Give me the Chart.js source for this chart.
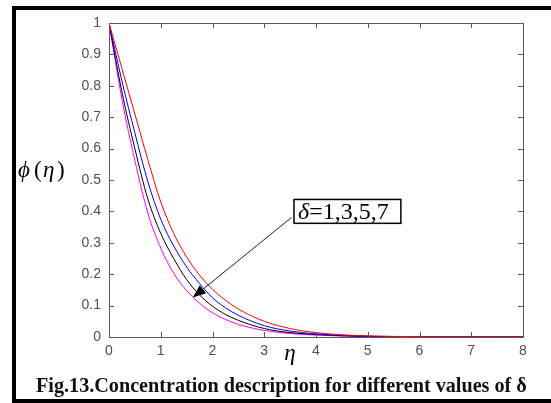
<!DOCTYPE html>
<html>
<head>
<meta charset="utf-8">
<script src="https://cdn.jsdelivr.net/npm/chart.js@4.4.0/dist/chart.umd.min.js"></script>
<style>
  html, body { margin: 0; padding: 0; background: #fff; }
  #wrap { width: 551px; height: 403px; }
</style>
</head>
<body>
<div id="wrap"><canvas id="graphique_phi" width="551" height="403"></canvas></div>
<script>
// eta grid
const etaValues = [0, 0.25, 0.5, 0.75, 1, 1.25, 1.5, 1.75, 2, 2.25, 2.5, 3, 3.5, 4, 4.5, 5, 6, 7, 8];

// phi(eta) for delta = 1, 3, 5, 7
const phiDelta1 = [1, 0.855, 0.71, 0.565, 0.43, 0.33, 0.255, 0.197, 0.152, 0.117, 0.089, 0.05, 0.027, 0.014, 0.007, 0.0035, 0.001, 0.0002, 0];
const phiDelta3 = [1, 0.815, 0.65, 0.495, 0.375, 0.29, 0.223, 0.17, 0.125, 0.093, 0.069, 0.036, 0.019, 0.01, 0.005, 0.0025, 0.0006, 0.0001, 0];
const phiDelta5 = [1, 0.78, 0.6, 0.44, 0.33, 0.25, 0.183, 0.134, 0.098, 0.072, 0.053, 0.027, 0.014, 0.008, 0.004, 0.002, 0.0005, 0.0001, 0];
const phiDelta7 = [1, 0.757, 0.562, 0.395, 0.283, 0.203, 0.148, 0.108, 0.077, 0.056, 0.04, 0.021, 0.011, 0.006, 0.003, 0.0015, 0.0004, 0.0001, 0];

const seriesLabels = ['δ=1', 'δ=3', 'δ=5', 'δ=7'];
const seriesColors = ['#ff0000', '#0000ff', '#000000', '#ff00ff'];

const annotationText = '=1,3,5,7';
const captionText = 'Fig.13.Concentration description for different values of δ';

function points(ys) {
    return etaValues.map(function (x, i) { return { x: x, y: ys[i] }; });
}

const allSeries = [phiDelta1, phiDelta3, phiDelta5, phiDelta7];

const decorations = {
    id: 'decorations',
    beforeDraw: function (chart) {
        const ctx = chart.ctx;
        ctx.save();
        ctx.fillStyle = '#fff';
        ctx.fillRect(0, 0, chart.width, chart.height);
        ctx.restore();
    },
    afterDraw: function (chart) {
        const ctx = chart.ctx;
        const a = chart.chartArea;
        const xs = chart.scales.x;
        const ys = chart.scales.y;
        ctx.save();

        // axes box + inward ticks
        ctx.strokeStyle = '#5a5a5a';
        ctx.lineWidth = 1;
        ctx.strokeRect(Math.round(a.left) + 0.5, Math.round(a.top) + 0.5, Math.round(a.right - a.left), Math.round(a.bottom - a.top));
        ctx.beginPath();
        for (let v = 0; v <= 8; v++) {
            const px = Math.round(xs.getPixelForValue(v)) + 0.5;
            ctx.moveTo(px, a.bottom); ctx.lineTo(px, a.bottom - 5);
            ctx.moveTo(px, a.top); ctx.lineTo(px, a.top + 5);
        }
        for (let k = 0; k <= 10; k++) {
            const py = Math.round(ys.getPixelForValue(k / 10)) + 0.5;
            ctx.moveTo(a.left, py); ctx.lineTo(a.left + 5, py);
            ctx.moveTo(a.right, py); ctx.lineTo(a.right - 5, py);
        }
        ctx.stroke();

        // axis titles
        ctx.fillStyle = '#000';
        ctx.textBaseline = 'alphabetic';
        ctx.textAlign = 'left';
        ctx.font = 'italic 23px "Liberation Serif", "DejaVu Serif", serif';
        ctx.fillText('ϕ', 18, 177);
        ctx.font = '23px "Liberation Serif", serif';
        ctx.fillText('(', 34, 177);
        ctx.font = 'italic 23px "Liberation Serif", serif';
        ctx.fillText('η', 43, 177);
        ctx.font = '23px "Liberation Serif", serif';
        ctx.fillText(')', 57, 177);

        ctx.font = 'italic 23px "Liberation Serif", serif';
        ctx.textAlign = 'center';
        ctx.fillText('η', 290, 360);

        // annotation box and arrow (data coordinates)
        const bx0 = xs.getPixelForValue(3.575), by0 = ys.getPixelForValue(0.438);
        const bx1 = xs.getPixelForValue(5.64), by1 = ys.getPixelForValue(0.362);
        ctx.lineWidth = 1.5;
        ctx.strokeStyle = '#000';
        ctx.strokeRect(bx0, by0, bx1 - bx0, by1 - by0);
        ctx.textAlign = 'left';
        ctx.font = 'italic 24px "Liberation Serif", serif';
        ctx.fillText('δ', bx0 + 4, by1 - 4);
        const dw = ctx.measureText('δ').width;
        ctx.font = '24px "Liberation Serif", serif';
        ctx.fillText(annotationText, bx0 + 4 + dw, by1 - 4);

        const sx = xs.getPixelForValue(3.53), sy = ys.getPixelForValue(0.381);
        const tx = xs.getPixelForValue(1.62), ty = ys.getPixelForValue(0.126);
        const ang = Math.atan2(ty - sy, tx - sx);
        const hl = 13, hw = 5;
        const baseX = tx - hl * Math.cos(ang), baseY = ty - hl * Math.sin(ang);
        ctx.lineWidth = 1;
        ctx.strokeStyle = '#222';
        ctx.beginPath();
        ctx.moveTo(sx, sy);
        ctx.lineTo(baseX, baseY);
        ctx.stroke();
        ctx.fillStyle = '#000';
        ctx.beginPath();
        ctx.moveTo(tx, ty);
        ctx.lineTo(baseX + hw * Math.sin(ang), baseY - hw * Math.cos(ang));
        ctx.lineTo(baseX - hw * Math.sin(ang), baseY + hw * Math.cos(ang));
        ctx.closePath();
        ctx.fill();

        // caption, fitted to its width in the picture
        ctx.font = 'bold 20px "Liberation Serif", serif';
        const w = ctx.measureText(captionText).width;
        const size = 20 * 491 / w;
        ctx.font = 'bold ' + size.toFixed(2) + 'px "Liberation Serif", serif';
        ctx.fillStyle = '#111';
        ctx.fillText(captionText, 36, 392);

        // black frame
        ctx.fillStyle = '#000';
        ctx.fillRect(12, 6, chart.width - 12, 4);
        ctx.fillRect(12, 6, 4, chart.height - 6);
        ctx.fillRect(12, chart.height - 4, chart.width - 12, 4);

        ctx.restore();
    }
};

let graphique_phi = new Chart(document.getElementById('graphique_phi').getContext('2d'), {
    type: 'line',
    data: {
        datasets: allSeries.map(function (s, i) {
            return {
                label: seriesLabels[i],
                data: points(s),
                borderColor: seriesColors[i],
                borderWidth: 1,
                pointRadius: 0,
                fill: false,
                cubicInterpolationMode: 'monotone'
            };
        })
    },
    options: {
        responsive: false,
        animation: false,
        devicePixelRatio: 1,
        layout: { padding: { left: 0, top: 23, right: 28, bottom: 0 } },
        plugins: { legend: { display: false }, tooltip: { enabled: false } },
        scales: {
            x: {
                type: 'linear',
                min: 0,
                max: 8,
                grid: { display: false, drawTicks: false },
                border: { display: false },
                ticks: {
                    stepSize: 1,
                    padding: 6,
                    color: '#505050',
                    font: { family: '"Liberation Sans", Arial, sans-serif', size: 14 }
                },
                afterFit: function (s) { s.height = 66; }
            },
            y: {
                type: 'linear',
                min: 0,
                max: 1,
                grid: { display: false, drawTicks: false },
                border: { display: false },
                ticks: {
                    stepSize: 0.1,
                    padding: 8,
                    color: '#505050',
                    font: { family: '"Liberation Sans", Arial, sans-serif', size: 14 },
                    callback: function (v) { return Math.round(v * 10) / 10; }
                },
                afterFit: function (s) { s.width = 109; }
            }
        }
    },
    plugins: [decorations]
});
</script>
</body>
</html>
